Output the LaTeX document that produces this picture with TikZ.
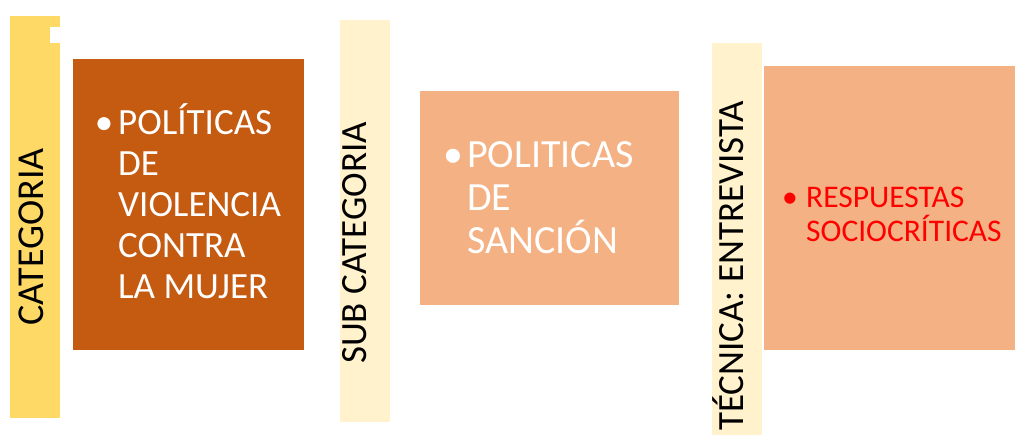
\documentclass[tikz,border=0pt]{standalone}
\usepackage{fontspec}
\setmainfont{Carlito}
\definecolor{cyellow}{HTML}{FFD966}
\definecolor{cbrown}{HTML}{C55A11}
\definecolor{clight}{HTML}{FFF2CC}
\definecolor{csalmon}{HTML}{F4B183}
\definecolor{cred}{HTML}{FF0000}
\begin{document}
\begin{tikzpicture}[x=1pt,y=-1pt,
  big/.style={font=\fontsize{37}{41}\selectfont, inner sep=0pt},
  mid/.style={font=\fontsize{40}{43}\selectfont, inner sep=0pt},
  small/.style={font=\fontsize{31.5}{34}\selectfont, inner sep=0pt},
  vlabel/.style={font=\fontsize{37}{41}\selectfont, inner sep=0pt, rotate=90, anchor=base, text=black},
  line/.style={anchor=base west},
  bul/.style={anchor=base}]
\useasboundingbox (0,0) rectangle (1015,435);
% bars and boxes
\fill[cyellow] (10,16) rectangle (60,418);
\fill[white] (50,27) rectangle (60,43);
\fill[cbrown] (73,59) rectangle (304,350);
\fill[clight] (340,20) rectangle (390,422);
\fill[csalmon] (420,91) rectangle (679,305);
\fill[clight] (712,43) rectangle (762,435);
\fill[csalmon] (764,66) rectangle (1015,350);
% vertical labels
\node[vlabel, font=\fontsize{38}{41}\selectfont] (cat) at (43,237) {CATEGORIA};
\node[vlabel] (subcat) at (366,243) {SUB CATEGORIA};
\node[vlabel] (tec) at (743,266) {TÉCNICA: ENTREVISTA};
% box 1
\begin{scope}[every node/.append style={big, text=white}]
\node[bul] (b1) at (104,135) {•};
\node[line] (l11) at (118,135) {POLÍTICAS};
\node[line] (l12) at (118,176) {DE};
\node[line] (l13) at (118,217) {VIOLENCIA};
\node[line] (l14) at (118,258) {CONTRA};
\node[line] (l15) at (118,299) {LA MUJER};
\end{scope}
% box 2
\begin{scope}[every node/.append style={mid, text=white}]
\node[bul] (b2) at (453,168) {•};
\node[line] (l21) at (467,168) {POLITICAS};
\node[line] (l22) at (467,211) {DE};
\node[line] (l23) at (467,254) {SANCIÓN};
\end{scope}
% box 3
\begin{scope}[every node/.append style={small, text=cred}]
\node[bul] (b3) at (790,208) {•};
\node[line] (l31) at (806,208) {RESPUESTAS};
\node[line] (l32) at (806,242) {SOCIOCRÍTICAS};
\end{scope}
\end{tikzpicture}
\end{document}
